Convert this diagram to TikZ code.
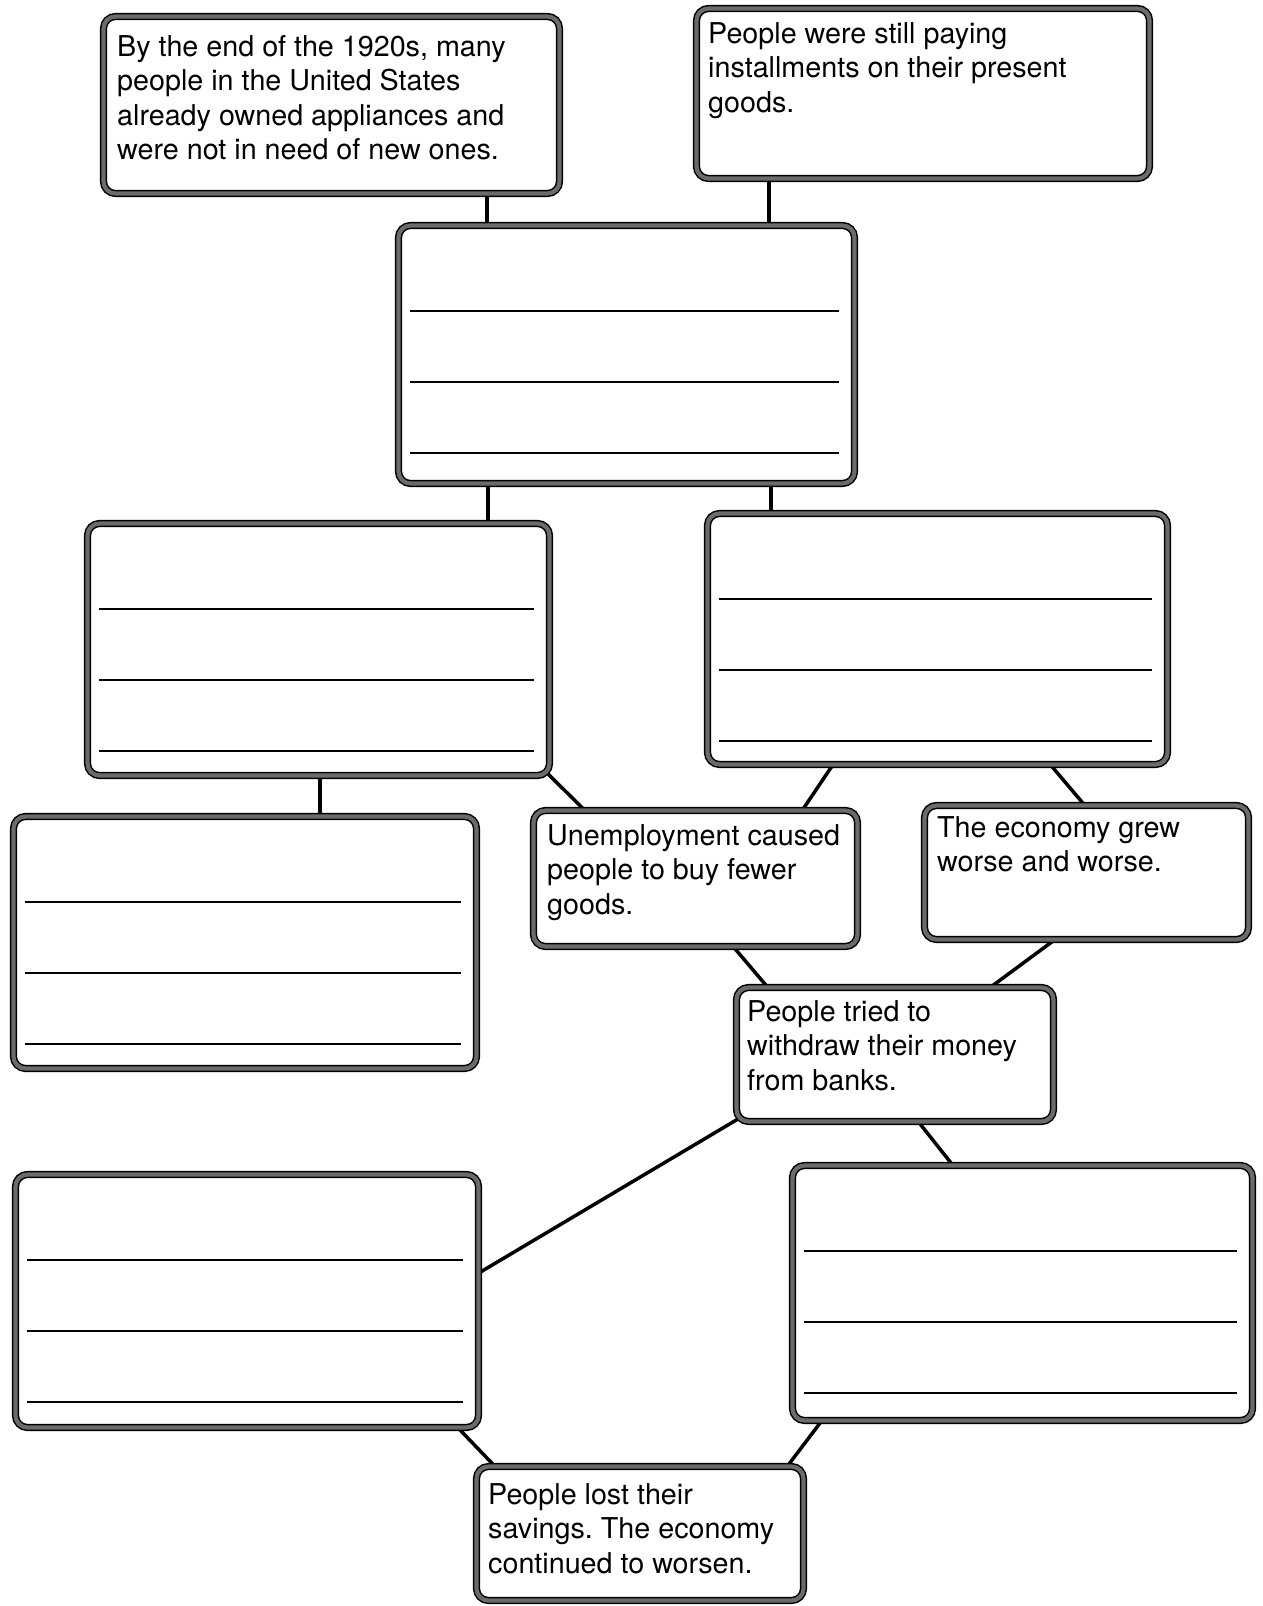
\documentclass[tikz,border=0pt]{standalone}
\usepackage{fontspec}
\setmainfont{TeX Gyre Heros}
\usetikzlibrary{calc,backgrounds}
\frenchspacing
\begin{document}
\begin{tikzpicture}[x=1pt,y=-1pt,
  box/.style={draw=black, line width=1.5pt, double=black!58, double distance=4.2pt,
              rounded corners=12pt, fill=white, inner sep=0pt, outer sep=0pt},
  txt/.style={anchor=north west, inner sep=0pt, align=left,
              font=\fontsize{28.7}{34.5}\selectfont},
  conn/.style={line width=3.5pt, black},
  rule/.style={line width=2pt, black}]
\useasboundingbox (0,0) rectangle (1263,1606);

% boxes
\node[box, minimum width=456pt, minimum height=177pt] (b1) at (331.5,105) {};
\node[box, minimum width=453pt, minimum height=170pt] (b2) at (923,93.5) {};
\node[box, minimum width=456pt, minimum height=258pt] (b3) at (626.5,354.5) {};
\node[box, minimum width=462pt, minimum height=252pt] (b4) at (318.5,649.5) {};
\node[box, minimum width=460pt, minimum height=251pt] (b5) at (937.5,639) {};
\node[box, minimum width=463pt, minimum height=252pt] (b6) at (245,942.5) {};
\node[box, minimum width=324pt, minimum height=136pt] (b7) at (695.5,878.5) {};
\node[box, minimum width=324pt, minimum height=134pt] (b8) at (1086.5,872.5) {};
\node[box, minimum width=317pt, minimum height=134pt] (b9) at (895,1054.5) {};
\node[box, minimum width=463pt, minimum height=253pt] (b10) at (247,1301) {};
\node[box, minimum width=460pt, minimum height=255pt] (b11) at (1022.5,1293) {};
\node[box, minimum width=327pt, minimum height=134pt] (b12) at (640,1533.5) {};

% texts
\node[txt] (t1) at (117,35) {By the end of the 1920s, many\\people in the United States\\already owned appliances and\\were not in need of new ones.};
\node[txt] (t2) at (708,22) {People were still paying\\installments on their present\\goods.};
\node[txt] (t7) at (547,824) {Unemployment caused\\people to buy fewer\\goods.};
\node[txt] (t8) at (937,816) {The economy grew\\worse and worse.};
\node[txt] (t9) at (747,1000) {People tried to\\withdraw their money\\from banks.};
\node[txt] (t12) at (488,1483) {People lost their\\savings. The economy\\continued to worsen.};

% writing lines
\foreach \b in {b3,b4,b5,b6,b10,b11}{
  \foreach \d in {85,156,227}{
    \draw[rule] ($(\b.north west)+(11,\d)$) -- ($(\b.north east)+(-16,\d)$);
  }
}

% connectors
\begin{pgfonlayer}{background}
\fill[white] (0,0) rectangle (1263,1606);
\coordinate (p1) at ($(b1.south west)!.841!(b1.south east)$);
\coordinate (p2) at ($(b2.south west)!.160!(b2.south east)$);
\coordinate (p3) at ($(b3.south west)!.196!(b3.south east)$);
\coordinate (p4) at ($(b3.south west)!.817!(b3.south east)$);
\coordinate (p5) at ($(b4.south west)!.503!(b4.south east)$);
\draw[conn] (p1) -- (p1 |- b3.north);
\draw[conn] (p2) -- (p2 |- b3.north);
\draw[conn] (p3) -- (p3 |- b4.north);
\draw[conn] (p4) -- (p4 |- b5.north);
\draw[conn] (p5) -- (p5 |- b6.north);
\draw[conn] ($(b4.south east)+(-4,-4)$) -- ($(b7.north west)!.159!(b7.north east)$);
\draw[conn] ($(b5.south west)!.273!(b5.south east)$) -- ($(b7.north west)!.829!(b7.north east)$);
\draw[conn] ($(b5.south west)!.745!(b5.south east)$) -- ($(b8.north west)!.495!(b8.north east)$);
\draw[conn] ($(b7.south west)!.616!(b7.south east)$) -- ($(b9.north west)!.099!(b9.north east)$);
\draw[conn] ($(b8.south west)!.403!(b8.south east)$) -- ($(b9.north west)!.80!(b9.north east)$);
\draw[conn] ($(b9.south west)+(4,-4)$) -- ($(b10.north east)!.39!(b10.south east)$);
\draw[conn] ($(b9.south west)!.573!(b9.south east)$) -- ($(b11.north west)!.349!(b11.north east)$);
\draw[conn] ($(b10.south west)!.955!(b10.south east)$) -- ($(b12.north west)!.057!(b12.north east)$);
\draw[conn] ($(b11.south west)!.064!(b11.south east)$) -- ($(b12.north west)!.95!(b12.north east)$);
\end{pgfonlayer}
\end{tikzpicture}
\end{document}
